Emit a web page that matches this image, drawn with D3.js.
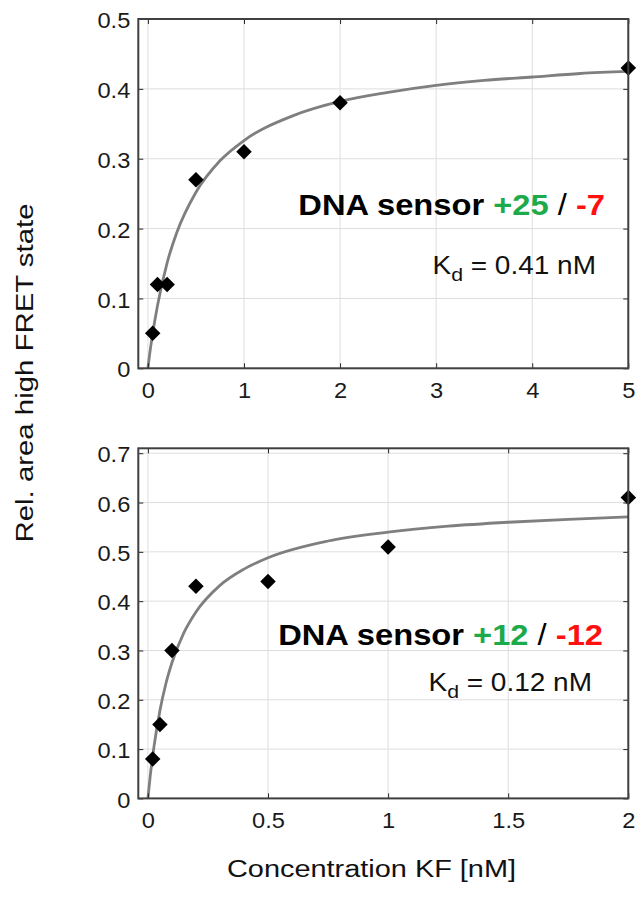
<!DOCTYPE html>
<html><head><meta charset="utf-8">
<script src="https://cdn.jsdelivr.net/npm/d3@7"></script>
<style>body{margin:0;background:#fff} text{font-family:"Liberation Sans",Arial,Helvetica,sans-serif}</style>
</head><body><svg id="c" width="636" height="897"></svg>
<script>
// ---- data: top panel (DNA sensor +25 / -7) ----
const topConc = [0.05, 0.1, 0.2, 0.5, 1, 2, 5];
const topArea = [0.05, 0.12, 0.12, 0.27, 0.31, 0.38, 0.43];
const topFitConc = [0, 0.02, 0.05, 0.1, 0.2, 0.3, 0.5, 0.75, 1, 1.5, 2, 2.5, 3, 3.5, 4, 4.5, 5];
const topFitArea = [0, 0.022, 0.05, 0.09, 0.151, 0.194, 0.252, 0.297, 0.326, 0.361, 0.382, 0.395, 0.405, 0.412, 0.417, 0.422, 0.425];
const topXTicks = [0, 1, 2, 3, 4, 5];
const topXLabels = ["0", "1", "2", "3", "4", "5"];
const topYTicks = [0, 0.1, 0.2, 0.3, 0.4, 0.5];
const topYLabels = ["0", "0.1", "0.2", "0.3", "0.4", "0.5"];
const topTitle = [["DNA sensor ", "#000", "bold"], ["+25", "#1daa4a", "bold"], [" / ", "#000", "normal"], ["-7", "#ff1010", "bold"]];
const topKd = "0.41 nM";

// ---- data: bottom panel (DNA sensor +12 / -12) ----
const botConc = [0.02, 0.05, 0.1, 0.2, 0.5, 1, 2];
const botArea = [0.08, 0.15, 0.30, 0.43, 0.44, 0.51, 0.61];
const botFitConc = [0, 0.01, 0.025, 0.05, 0.075, 0.1, 0.15, 0.2, 0.3, 0.4, 0.5, 0.75, 1, 1.25, 1.5, 1.75, 2];
const botFitArea = [0, 0.047, 0.104, 0.178, 0.233, 0.275, 0.336, 0.378, 0.432, 0.465, 0.488, 0.522, 0.54, 0.552, 0.56, 0.566, 0.571];
const botXTicks = [0, 0.5, 1, 1.5, 2];
const botXLabels = ["0", "0.5", "1", "1.5", "2"];
const botYTicks = [0, 0.1, 0.2, 0.3, 0.4, 0.5, 0.6, 0.7];
const botYLabels = ["0", "0.1", "0.2", "0.3", "0.4", "0.5", "0.6", "0.7"];
const botTitle = [["DNA sensor ", "#000", "bold"], ["+12", "#1daa4a", "bold"], [" / ", "#000", "normal"], ["-12", "#ff1010", "bold"]];
const botKd = "0.12 nM";

const yAxisLabel = "Rel. area high FRET state";
const xAxisLabel = "Concentration KF [nM]";

const svg = d3.select("#c");
svg.append("rect").attr("width", 636).attr("height", 897).attr("fill", "#fff");

const TS = 1.1; // horizontal stretch of tick text
const L = 138.3, R = 628.3;

function panel(cfg) {
  const x = d3.scaleLinear().domain(cfg.xDomain).range([L, R]);
  const y = d3.scaleLinear().domain(cfg.yDomain).range([cfg.bottom, cfg.top]);
  const g = svg.append("g");

  g.selectAll(".gx").data(cfg.xTicks).join("line")
    .attr("x1", d => x(d)).attr("x2", d => x(d))
    .attr("y1", cfg.top).attr("y2", cfg.bottom)
    .attr("stroke", "#dedede").attr("stroke-width", 1);
  g.selectAll(".gy").data(cfg.yTicks).join("line")
    .attr("x1", L).attr("x2", R)
    .attr("y1", d => y(d)).attr("y2", d => y(d))
    .attr("stroke", "#dedede").attr("stroke-width", 1);

  const line = d3.line().x(d => x(d[0])).y(d => y(d[1])).curve(d3.curveMonotoneX);
  g.append("path").datum(d3.zip(cfg.fitX, cfg.fitY))
    .attr("d", line).attr("fill", "none")
    .attr("stroke", "#7f7f7f").attr("stroke-width", 2.8);

  const sq = d3.symbol().type(d3.symbolSquare).size(120);
  g.selectAll(".pt").data(d3.zip(cfg.px, cfg.py)).join("path")
    .attr("d", sq)
    .attr("transform", d => `translate(${x(d[0])},${y(d[1])}) rotate(45)`)
    .attr("fill", "#000");

  const styleAxis = sel => {
    sel.select(".domain").remove();
    sel.selectAll(".tick line").attr("stroke", "#262626").attr("stroke-width", 1);
    sel.selectAll("text").attr("font-size", 21.5).attr("fill", "#1a1a1a")
      .attr("font-family", '"Liberation Sans",Arial,sans-serif');
  };

  const ax = g.append("g").attr("transform", `translate(0,${cfg.bottom})`)
    .call(d3.axisBottom(x).tickValues(cfg.xTicks).tickFormat((d, i) => cfg.xLabels[i])
      .tickSizeInner(-5).tickSizeOuter(0).tickPadding(14));
  styleAxis(ax);
  ax.selectAll("text").attr("transform", `scale(${TS},1)`);

  const ay = g.append("g").attr("transform", `translate(${L},0)`)
    .call(d3.axisLeft(y).tickValues(cfg.yTicks).tickFormat((d, i) => cfg.yLabels[i])
      .tickSizeInner(-5).tickSizeOuter(0).tickPadding(9));
  styleAxis(ay);
  ay.selectAll("text").attr("transform", `scale(${TS},1)`).attr("x", -8 / TS).attr("dy", "0.4em");

  const at = g.append("g").attr("transform", `translate(0,${cfg.top})`)
    .call(d3.axisTop(x).tickValues(cfg.xTicks).tickFormat("").tickSizeInner(-5).tickSizeOuter(0));
  styleAxis(at);
  const ar = g.append("g").attr("transform", `translate(${R},0)`)
    .call(d3.axisRight(y).tickValues(cfg.yTicks).tickFormat("").tickSizeInner(-5).tickSizeOuter(0));
  styleAxis(ar);

  g.append("rect").attr("x", L).attr("y", cfg.top)
    .attr("width", R - L).attr("height", cfg.bottom - cfg.top)
    .attr("fill", "none").attr("stroke", "#404040").attr("stroke-width", 2);

  // title annotation
  const t = g.append("text")
    .attr("transform", `translate(${cfg.titlePos[0]},${cfg.titlePos[1]}) scale(1.09,1)`)
    .attr("text-anchor", "end").attr("font-size", 30).attr("xml:space", "preserve");
  cfg.title.forEach(p => t.append("tspan").text(p[0]).attr("fill", p[1]).attr("font-weight", p[2]));

  const k = g.append("text")
    .attr("transform", `translate(${cfg.kdPos[0]},${cfg.kdPos[1]}) scale(1.12,1)`)
    .attr("text-anchor", "end").attr("font-size", 25).attr("fill", "#111");
  k.append("tspan").text("K");
  k.append("tspan").text("d").attr("font-size", 19).attr("dy", 7);
  k.append("tspan").text(" = " + cfg.kd).attr("dy", -7);
}

panel({
  xDomain: [-0.1, 5], yDomain: [0, 0.5], top: 19, bottom: 368.3,
  xTicks: topXTicks, xLabels: topXLabels, yTicks: topYTicks, yLabels: topYLabels,
  px: topConc, py: topArea, fitX: topFitConc, fitY: topFitArea,
  title: topTitle, titlePos: [605, 215], kd: topKd, kdPos: [596, 274]
});
panel({
  xDomain: [-0.04, 2], yDomain: [0, 0.71], top: 448.3, bottom: 798.4,
  xTicks: botXTicks, xLabels: botXLabels, yTicks: botYTicks, yLabels: botYLabels,
  px: botConc, py: botArea, fitX: botFitConc, fitY: botFitArea,
  title: botTitle, titlePos: [603, 645], kdPos: [592, 691], kd: botKd
});

svg.append("text").text(yAxisLabel)
  .attr("transform", "translate(33,373) rotate(-90) scale(1.25,1)")
  .attr("text-anchor", "middle").attr("font-size", 23.5).attr("fill", "#111");
svg.append("text").text(xAxisLabel)
  .attr("transform", "translate(371.5,877) scale(1.23,1)")
  .attr("text-anchor", "middle").attr("font-size", 23.5).attr("fill", "#111");
</script></body></html>
